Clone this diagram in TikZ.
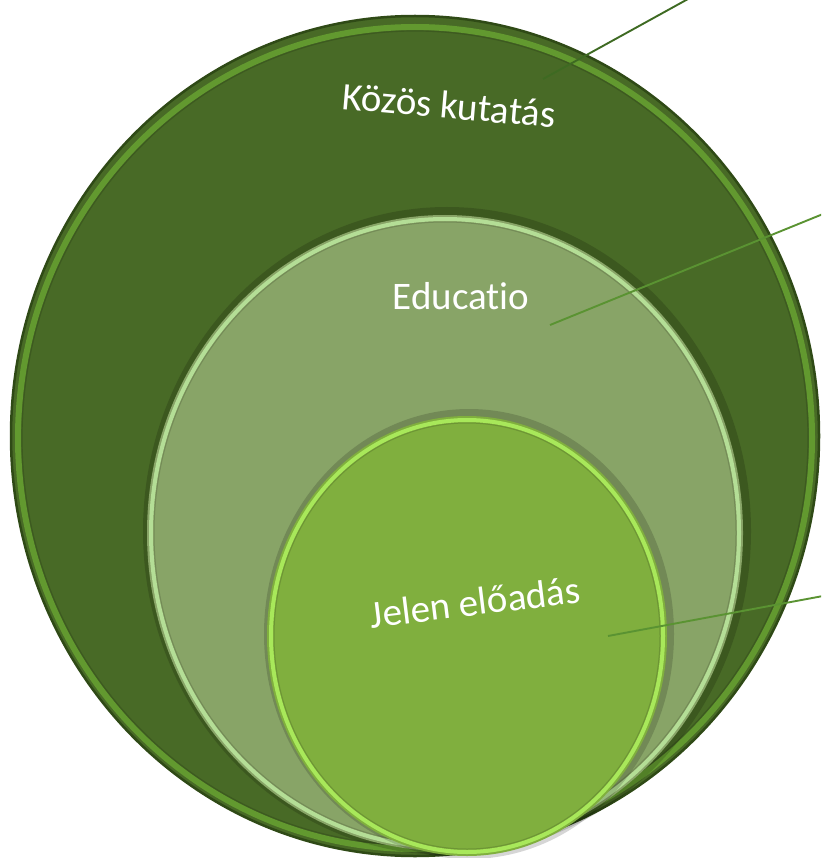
\documentclass[tikz,border=0pt]{standalone}
\usepackage{fontspec}
\setmainfont{Carlito}[Ligatures=NoCommon]
\usetikzlibrary{shapes.geometric}
\definecolor{outerfill}{HTML}{486A26}
\definecolor{outerrim}{HTML}{62992F}
\definecolor{outeredge}{HTML}{2F4A16}
\definecolor{midfill}{HTML}{88A467}
\definecolor{midrim}{HTML}{B4DE96}
\definecolor{innerfill}{HTML}{80AF3E}
\definecolor{innerrim}{HTML}{A8E85A}
\definecolor{lineA}{HTML}{3E6A22}
\definecolor{lineB}{HTML}{5A9332}
\tikzset{
  disc/.style={ellipse, inner sep=0pt, outer sep=0pt},
  label/.style={text=white, font=\fontsize{39}{44}\selectfont, inner sep=0pt},
  leader/.style={line width=1.9pt},
  shadow/.style={fill=black, opacity=0.16}
}
\begin{document}
\begin{tikzpicture}[x=1pt,y=-1pt]
\useasboundingbox (0,0) rectangle (821,858);
\clip (0,0) rectangle (821,858);
% outer circle
\node[disc, fill=outerfill, draw=outeredge, line width=2.5pt, minimum width=808pt, minimum height=840pt] (outer) at (415,436) {};
\draw[outerrim, line width=6pt] (415,438) ellipse [x radius=397, y radius=411];
\draw[outerfill!85!black, line width=1.2pt] (415,438) ellipse [x radius=393, y radius=407];
% middle circle
\fill[shadow] (447,531) ellipse [x radius=304, y radius=324];
\node[disc, fill=midfill, minimum width=596pt, minimum height=636pt] (mid) at (445,533) {};
\draw[midrim, line width=4pt] (445,533) ellipse [x radius=294, y radius=314];
\draw[midfill!85!black, line width=1pt] (445,533) ellipse [x radius=291, y radius=311];
% inner circle
\fill[shadow] (469,634) ellipse [x radius=205, y radius=225];
\node[disc, fill=innerfill, minimum width=400pt, minimum height=440pt] (inner) at (467,636) {};
\draw[innerrim, line width=4pt] (467,636) ellipse [x radius=196, y radius=216];
\draw[innerfill!85!black, line width=1pt] (467,636) ellipse [x radius=193, y radius=213];
% labels
\node[label, rotate=-5] (kt) at (449,105) {Közös kutatás};
\node[label] (ed) at (461,296) {Educatio};
\node[label, rotate=7] (je) at (475,602) {Jelen előadás};
% leader lines
\coordinate (ktA) at (543,79);
\coordinate (ktB) at (688,-1);
\coordinate (edA) at (550,325);
\coordinate (edB) at (823,214);
\coordinate (jeA) at (608,636);
\coordinate (jeB) at (823,596);
\draw[leader, lineA] (ktA) -- (ktB);
\draw[leader, lineB] (edA) -- (edB);
\draw[leader, lineB] (jeA) -- (jeB);
\end{tikzpicture}
\end{document}
